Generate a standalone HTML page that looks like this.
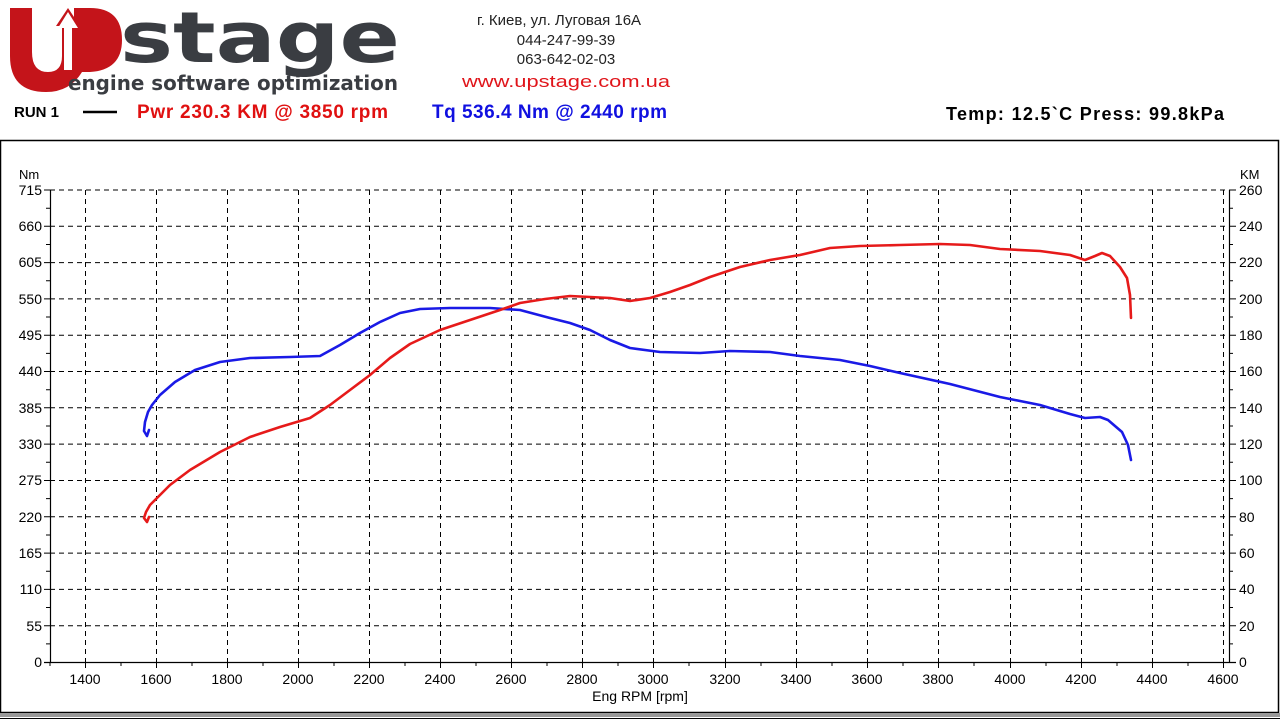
<!DOCTYPE html>
<html><head><meta charset="utf-8"><style>
html,body{margin:0;padding:0;background:#fff;width:1280px;height:720px;overflow:hidden}
text{font-family:"Liberation Sans",Arial,sans-serif}
</style></head><body>
<svg width="1280" height="720" viewBox="0 0 1280 720" xmlns="http://www.w3.org/2000/svg" xml:space="preserve">
<!-- logo -->
<path d="M10,8 L32,8 L32,52 Q32,72 48,72 Q62,72 62,56 L62,26 L56,26 L68,8 L80,26 L74,26 L74,8 L90,8 Q122,8 122,40 Q122,70 90,72 L82,72 Q70,92 46,92 Q10,92 10,56 Z" fill="#c4141a"/>
<path d="M68,12 L78,28 L72,28 L72,70 L64,70 L64,28 L58,28 Z" fill="#fff"/>
<text x="120" y="62" font-size="70" font-weight="bold" fill="#3a3d42" style="font-family:'DejaVu Sans',sans-serif" textLength="280" lengthAdjust="spacingAndGlyphs">stage</text>
<text x="68" y="90" font-size="20" font-weight="bold" fill="#3a3d42" style="font-family:'DejaVu Sans',sans-serif" textLength="330" lengthAdjust="spacingAndGlyphs">engine software optimization</text>
<!-- header text -->
<text x="559" y="25" font-size="15" fill="#222" text-anchor="middle">г. Киев, ул. Луговая 16А</text>
<text x="566" y="45" font-size="15" fill="#222" text-anchor="middle">044-247-99-39</text>
<text x="566" y="64" font-size="15" fill="#222" text-anchor="middle">063-642-02-03</text>
<text x="566" y="87" font-size="17" fill="#e0141a" text-anchor="middle" textLength="208" lengthAdjust="spacingAndGlyphs">www.upstage.com.ua</text>
<text x="14" y="117" font-size="15" font-weight="bold" fill="#000">RUN 1</text>
<line x1="83" y1="112" x2="117" y2="112" stroke="#000" stroke-width="2.5"/>
<text x="137" y="118" font-size="19" font-weight="bold" fill="#e01010" textLength="251" lengthAdjust="spacing">Pwr  230.3 KM @ 3850 rpm</text>
<text x="432" y="118" font-size="19" font-weight="bold" fill="#1010e0" textLength="235" lengthAdjust="spacing">Tq 536.4 Nm @ 2440 rpm</text>
<text x="946" y="120" font-size="18" font-weight="bold" fill="#000" textLength="278" lengthAdjust="spacing">Temp: 12.5`C   Press: 99.8kPa</text>
<!-- frame -->
<rect x="0.5" y="140.5" width="1278" height="572" fill="#fff" stroke="#000" stroke-width="1.5"/>
<rect x="0" y="713" width="1280" height="4" fill="#999"/>
<line x1="0" y1="718.5" x2="1280" y2="718.5" stroke="#000"/>
<!-- grid -->
<g stroke="#000" stroke-width="1" stroke-dasharray="5,4">
<line x1="50" x2="1229" y1="190" y2="190"/><line x1="50" x2="1229" y1="226.3" y2="226.3"/><line x1="50" x2="1229" y1="262.6" y2="262.6"/><line x1="50" x2="1229" y1="298.9" y2="298.9"/><line x1="50" x2="1229" y1="335.2" y2="335.2"/><line x1="50" x2="1229" y1="371.5" y2="371.5"/><line x1="50" x2="1229" y1="407.8" y2="407.8"/><line x1="50" x2="1229" y1="444.1" y2="444.1"/><line x1="50" x2="1229" y1="480.5" y2="480.5"/><line x1="50" x2="1229" y1="516.8" y2="516.8"/><line x1="50" x2="1229" y1="553.1" y2="553.1"/><line x1="50" x2="1229" y1="589.4" y2="589.4"/><line x1="50" x2="1229" y1="625.7" y2="625.7"/>
<line y1="190" y2="662" x1="85.5" x2="85.5"/><line y1="190" y2="662" x1="156.5" x2="156.5"/><line y1="190" y2="662" x1="227.5" x2="227.5"/><line y1="190" y2="662" x1="298.5" x2="298.5"/><line y1="190" y2="662" x1="369.5" x2="369.5"/><line y1="190" y2="662" x1="440.5" x2="440.5"/><line y1="190" y2="662" x1="511.5" x2="511.5"/><line y1="190" y2="662" x1="582.5" x2="582.5"/><line y1="190" y2="662" x1="653.5" x2="653.5"/><line y1="190" y2="662" x1="725.5" x2="725.5"/><line y1="190" y2="662" x1="796.5" x2="796.5"/><line y1="190" y2="662" x1="867.5" x2="867.5"/><line y1="190" y2="662" x1="938.5" x2="938.5"/><line y1="190" y2="662" x1="1010.5" x2="1010.5"/><line y1="190" y2="662" x1="1081.5" x2="1081.5"/><line y1="190" y2="662" x1="1152.5" x2="1152.5"/><line y1="190" y2="662" x1="1223.5" x2="1223.5"/>
</g>
<!-- axes -->
<g stroke="#000" stroke-width="1.2">
<line x1="50.5" y1="190" x2="50.5" y2="662"/><line x1="1229.5" y1="190" x2="1229.5" y2="662"/><line x1="44" y1="662.5" x2="1236" y2="662.5"/>
</g>
<g stroke="#000" stroke-width="1">
<path d="M44 190H50M44 226.3H50M44 262.6H50M44 298.9H50M44 335.2H50M44 371.5H50M44 407.8H50M44 444.1H50M44 480.5H50M44 516.8H50M44 553.1H50M44 589.4H50M44 625.7H50
M46 208.2H50M46 244.5H50M46 280.8H50M46 317H50M46 353.4H50M46 389.7H50M46 426H50M46 462.3H50M46 498.6H50M46 535H50M46 571.3H50M46 607.5H50M46 643.9H50"/>
<path d="M1229 190H1236M1229 226.3H1236M1229 262.6H1236M1229 298.9H1236M1229 335.2H1236M1229 371.5H1236M1229 407.8H1236M1229 444.1H1236M1229 480.5H1236M1229 516.8H1236M1229 553.1H1236M1229 589.4H1236M1229 625.7H1236
M1229 208.2H1233M1229 244.5H1233M1229 280.8H1233M1229 317H1233M1229 353.4H1233M1229 389.7H1233M1229 426H1233M1229 462.3H1233M1229 498.6H1233M1229 535H1233M1229 571.3H1233M1229 607.5H1233M1229 643.9H1233"/>
<path d="M85.5 662V668M156.5 662V668M227.5 662V668M298.5 662V668M369.5 662V668M440.5 662V668M511.5 662V668M582.5 662V668M653.5 662V668M725.5 662V668M796.5 662V668M867.5 662V668M938.5 662V668M1010.5 662V668M1081.5 662V668M1152.5 662V668M1223.5 662V668
M50 662V666M121 662V666M192 662V666M263 662V666M334 662V666M405 662V666M476 662V666M547 662V666M618 662V666M689 662V666M761 662V666M832 662V666M903 662V666M974 662V666M1046 662V666M1117 662V666M1188 662V666"/>
</g>
<!-- labels -->
<text x="19" y="179" font-size="13">Nm</text>
<text x="1240" y="179" font-size="13">KM</text>
<g font-size="14" fill="#000" text-anchor="end">
<text x="42" y="195">715</text><text x="42" y="231">660</text><text x="42" y="267">605</text><text x="42" y="304">550</text><text x="42" y="340">495</text><text x="42" y="376">440</text><text x="42" y="413">385</text><text x="42" y="449">330</text><text x="42" y="485">275</text><text x="42" y="522">220</text><text x="42" y="558">165</text><text x="42" y="594">110</text><text x="42" y="631">55</text><text x="42" y="667">0</text>
</g>
<g font-size="14" fill="#000">
<text x="1239" y="195">260</text><text x="1239" y="231">240</text><text x="1239" y="267">220</text><text x="1239" y="304">200</text><text x="1239" y="340">180</text><text x="1239" y="376">160</text><text x="1239" y="413">140</text><text x="1239" y="449">120</text><text x="1239" y="485">100</text><text x="1239" y="522">80</text><text x="1239" y="558">60</text><text x="1239" y="594">40</text><text x="1239" y="631">20</text><text x="1239" y="667">0</text>
</g>
<g font-size="14" fill="#000" text-anchor="middle">
<text x="85" y="684">1400</text><text x="156" y="684">1600</text><text x="227" y="684">1800</text><text x="298" y="684">2000</text><text x="369" y="684">2200</text><text x="440" y="684">2400</text><text x="511" y="684">2600</text><text x="582" y="684">2800</text><text x="653" y="684">3000</text><text x="725" y="684">3200</text><text x="796" y="684">3400</text><text x="867" y="684">3600</text><text x="938" y="684">3800</text><text x="1010" y="684">4000</text><text x="1081" y="684">4200</text><text x="1152" y="684">4400</text><text x="1223" y="684">4600</text>
<text x="640" y="701">Eng RPM [rpm]</text>
</g>
<!-- curves -->
<polyline fill="none" stroke="#1a1ae6" stroke-width="2.6" stroke-linejoin="round" stroke-linecap="round" points="149,430 147,436 144,431 145,422 148,412 152,405 160,395 175,382 195,370 220,362 250,358 290,357 320,356 340,345 360,333 380,322 400,313 420,309 450,308 490,308 520,310 550,318 570,323 590,330 610,340 630,348 660,352 700,353 730,351 770,352 800,356 840,360 870,366 900,373 950,384 1000,397 1040,405 1070,414 1085,418 1100,417 1108,420 1122,432 1128,445 1131,460"/>
<polyline fill="none" stroke="#e61a1a" stroke-width="2.6" stroke-linejoin="round" stroke-linecap="round" points="149,517 147,522 144,518 146,512 150,505 155,500 170,485 190,470 220,452 250,437 280,427 310,418 330,405 350,390 370,375 390,358 410,344 440,330 470,320 500,310 520,303 545,299 570,296 590,297 610,298 630,301 650,298 670,292 690,285 710,277 740,267 770,260 800,255 830,248 860,246 900,245 940,244 970,245 1000,249 1040,251 1070,255 1085,260 1095,256 1102,253 1110,256 1120,267 1127,278 1130,295 1131,318"/>
</svg>
</body></html>
